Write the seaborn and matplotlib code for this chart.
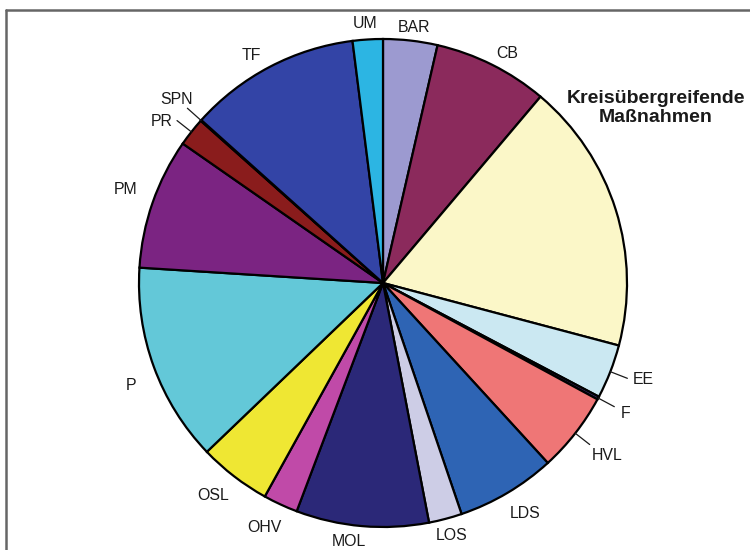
import numpy as np
import seaborn as sns
import matplotlib
matplotlib.use('Agg')
import matplotlib.pyplot as plt
from matplotlib import font_manager
from matplotlib.lines import Line2D


# shares (percent, clockwise from 12 o'clock)
districts = ['BAR', 'CB', 'Kreisübergreifende\nMaßnahmen', 'EE', 'F', 'HVL', 'LDS', 'LOS',
             'MOL', 'OHV', 'OSL', 'P', 'PM', 'PR', 'SPN', 'TF', 'UM']
shares = [3.6, 7.6, 18.0, 3.6, 0.2, 5.3, 6.6, 2.2,
          8.8, 2.3, 4.8, 13.2, 8.7, 1.9, 0.06, 11.4, 2.0]
colors = ['#9c9ad0', '#8b2a5c', '#fbf7c8', '#cbe8f2', '#3a2a6e', '#ef7676', '#2e64b4', '#cdcde6',
          '#2b2878', '#c04aa8', '#efe733', '#63c8d8', '#7b2482', '#8a1c1c', '#3a4aa8', '#3344a6', '#2cb5e3']

# label centres in picture pixels
label_px = {
    'BAR': (414, 28), 'CB': (507, 53), 'Kreisübergreifende\nMaßnahmen': (656, 108),
    'EE': (643, 380), 'F': (626, 413), 'HVL': (607, 455), 'LDS': (525, 513),
    'LOS': (452, 536), 'MOL': (349, 542), 'OHV': (264, 528), 'OSL': (213, 495),
    'P': (131, 385), 'PM': (126, 190), 'PR': (162, 122), 'SPN': (177, 100),
    'TF': (251, 55), 'UM': (365, 24),
}
leader = ['EE', 'F', 'HVL', 'PR', 'SPN']

W, H = 750, 550
cx, cy, r = 383, 283, 244

sns.set_theme(style='white')

names = {f.name for f in font_manager.fontManager.ttflist}
if 'Liberation Sans Narrow' in names:
    font, fs, fs_bold = 'Liberation Sans Narrow', 12.2, 16.5
else:
    font, fs, fs_bold = 'Liberation Sans', 11.4, 14.0
plt.rcParams['font.family'] = [font, 'DejaVu Sans']

fig = plt.figure(figsize=(W / 100, H / 100), dpi=100)
fig.patch.set_facecolor('white')
ax = fig.add_axes([(cx - 1.02 * r) / W, (H - cy - 1.02 * r) / H, 2.04 * r / W, 2.04 * r / H])

wedges, _ = ax.pie(
    shares,
    colors=colors,
    startangle=90,
    counterclock=False,
    radius=1,
    wedgeprops=dict(edgecolor='black', linewidth=1.6),
)
# one data unit = r pixels
ax.set_xlim(-1.02, 1.02)
ax.set_ylim(-1.02, 1.02)
ax.set_aspect('equal')
ax.axis('off')

for name, w in zip(districts, wedges):
    px, py = label_px[name]
    tx, ty = (px - cx) / r, (cy - py) / r
    if name.startswith('Kreis'):
        ax.text(tx, ty, name, ha='center', va='center', fontsize=fs_bold,
                fontweight='bold', color='#1a1a1a', linespacing=1.1)
        continue
    ax.text(tx, ty, name, ha='center', va='center', fontsize=fs, color='#1a1a1a')
    if name in leader:
        mid = np.deg2rad((w.theta1 + w.theta2) / 2)
        ax.plot([np.cos(mid), 1.075 * np.cos(mid)], [np.sin(mid), 1.075 * np.sin(mid)],
                color='#1a1a1a', linewidth=0.9, clip_on=False)

# grey frame (top and left only)
fig.add_artist(Line2D([6 / W, 1], [1 - 10 / H, 1 - 10 / H], color='#666666', linewidth=1.8))
fig.add_artist(Line2D([6 / W, 6 / W], [0, 1 - 10 / H], color='#666666', linewidth=1.8))

fig.savefig('out.png', dpi=100)
